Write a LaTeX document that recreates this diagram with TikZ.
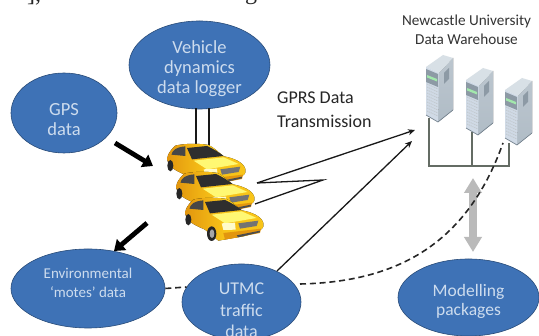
\documentclass[tikz,border=0pt]{standalone}
\usepackage{fontspec}
\setmainfont{Carlito}
\newfontfamily\bodyserif{Liberation Serif}
\usetikzlibrary{arrows.meta,calc,shapes.geometric}
\definecolor{bub}{RGB}{62,114,182}
\definecolor{bubtxt}{RGB}{205,220,238}
\definecolor{bubline}{RGB}{40,75,120}
\definecolor{cary}{RGB}{248,196,24}
\definecolor{cardk}{RGB}{226,150,14}
\definecolor{srv}{RGB}{176,188,198}
\definecolor{srvd}{RGB}{118,132,144}
\definecolor{srvl}{RGB}{216,224,230}
\definecolor{srvf}{RGB}{208,218,230}
\definecolor{linkg}{RGB}{100,108,100}
\tikzset{x=1pt,y=-1pt,
 bubble/.style={ellipse,draw=bubline,line width=.6pt,fill=bub,text=bubtxt,align=center,inner sep=0pt},
 conn/.style={line width=1.3pt,black!90},
 tipconn/.style={conn,-{Stealth[length=7pt,width=6pt]}},
 dashconn/.style={line width=1.6pt,black!85,dash pattern=on 6pt off 3.8pt},
 bigarrow/.style={line width=4.8pt,black,-{Triangle[length=10pt,width=14pt]}},
 labeltxt/.style={font=\fontsize{18}{22}\selectfont,text=black!85,anchor=west,inner sep=0pt},
 cuttxt/.style={font=\bodyserif\fontsize{24}{24}\selectfont,text=black!85,anchor=base west,inner sep=0pt},
}
\newcommand{\bubtext}[2]{\raisebox{#1}[0pt][0pt]{\begin{tabular}{@{}c@{}}#2\end{tabular}}}
\newcommand{\onecar}[1]{%
 \begin{scope}[shift={(#1)},x=.3333pt,y=-.3333pt]
  \fill[left color=cardk,right color=cary,middle color=cary] (0,45) .. controls (3,25) and (15,15) .. (25,5) .. controls (50,-2) and (100,-2) .. (125,3) .. controls (140,10) and (155,25) .. (170,37) .. controls (200,42) and (230,55) .. (235,75) .. controls (238,90) and (232,100) .. (175,115) -- (100,128) -- (60,95) .. controls (40,85) and (5,75) .. cycle;
  \fill[black!82] (60,12) -- (120,6) .. controls (140,15) and (160,28) .. (170,36) -- (75,46) -- cycle;
  \fill[black!72] (13,32) .. controls (18,18) and (25,10) .. (55,7) -- (55,36) -- cycle;
  \fill[yellow!55!white] (80,50) -- (170,40) -- (215,60) -- (120,76) -- cycle;
  \fill[white!80!yellow] (110,76) -- (150,74) -- (152,95) -- (115,96) -- cycle;
  \fill[black!55] (160,76) -- (220,68) -- (215,84) -- (165,92) -- cycle;
  \fill[cardk] (115,105) -- (228,92) -- (225,105) -- (120,125) -- cycle;
  \fill[black!70] (155,112) -- (225,98) -- (225,103) -- (160,118) -- cycle;
  \fill[black!85] (80,107) ellipse [x radius=14,y radius=22];
  \fill[black!85] (10,65) ellipse [x radius=9,y radius=17];
  \fill[black!35] (81,107) ellipse [x radius=7,y radius=13];
 \end{scope}}
\newcommand{\oneserver}[1]{%
 \begin{scope}[shift={(#1)}]
  \fill[top color=srv!85!white,bottom color=srv] (13,6) -- (27,-9) -- (27,43) -- (12,55) -- cycle;
  \fill[srvl] (13,6) -- (27,-9) -- (17,-12) -- (0,0) -- cycle;
  \fill[srvf] (0,0) -- (13,6) -- (12,55) -- (0,48) -- cycle;
  \fill[srvd!75!srvf] (0,2) -- (12,7) -- (12,20) -- (0,15) -- cycle;
  \fill[green!25!srvl] (1,8) -- (11,12) -- (11,14.5) -- (1,10.5) -- cycle;
  \foreach \k in {17,20,...,44}{\draw[white!55!srvd,line width=.8pt,dash pattern=on 1.2pt off .8pt] (1,\k) -- (12,\k+5);}
  \fill[srvd!60!srv] (18,6) -- (23,1) -- (23,12) -- (18,17) -- cycle;
  \draw[srvd,line width=.7pt] (0,48) -- (12,55) -- (27,43);
 \end{scope}}
\begin{document}
\begin{tikzpicture}
\useasboundingbox (0,0) rectangle (539,336);
\fill[white] (0,0) rectangle (539,336);
\begin{scope}
\clip (0,0) rectangle (539,336);
\node[cuttxt] (cutA) at (27,2) {],};
\node[cuttxt] (cutB) at (245,0) {g};
% wiring of the warehouse
\coordinate (s1b) at (429,118); \coordinate (s2b) at (472,132); \coordinate (s3b) at (509,143);
\coordinate (bus1) at (429,166); \coordinate (bus2) at (472,166); \coordinate (bus3) at (509,166);
\draw[linkg,line width=1.1pt] (s1b) -- (bus1) -- (bus3) -- (s3b);
\draw[linkg,line width=1.1pt] (s2b) -- (bus2);
\oneserver{426,67}
\oneserver{466,80}
\oneserver{505,90}
\node[font=\fontsize{15.2}{19}\selectfont,text=black!80,align=center,inner sep=0pt] (nu) at (466.5,29.5) {Newcastle University\\Data Warehouse};
% bubbles
\node[bubble,minimum width=141pt,minimum height=88pt,font=\fontsize{18.5}{20}\selectfont] (veh) at (199.5,65) {\bubtext{-9pt}{Vehicle\\dynamics\\data logger}};
\node[bubble,minimum width=106pt,minimum height=80pt,font=\fontsize{18.5}{20}\selectfont] (gps) at (64,113) {\bubtext{-13pt}{GPS\\data}};
\node[bubble,minimum width=154pt,minimum height=79pt,font=\fontsize{15}{19}\selectfont] (env) at (88,288.5) {\bubtext{1pt}{Environmental\\‘motes’ data}};
\node[bubble,minimum width=119pt,minimum height=76pt,font=\fontsize{18}{21.5}\selectfont] (utmc) at (241.5,302) {\bubtext{-14.5pt}{UTMC\\traffic\\data}};
\node[bubble,minimum width=141pt,minimum height=77pt,font=\fontsize{17.5}{18.5}\selectfont] (model) at (468.5,297.5) {\bubtext{-9pt}{Modelling\\packages}};
% cars
\coordinate (carA) at (167,144);
\coordinate (carB) at (176,172);
\coordinate (carC) at (185,198);
\draw[conn] (196,108.5) -- (196,146);
\draw[conn] (209,108.5) -- (209,146);
\onecar{carA}
\onecar{carB}
\onecar{carC}
\node[labeltxt] (gprs) at (277,98) {GPRS Data};
\node[labeltxt] (trans) at (277,121) {Transmission};
% GPRS zigzag
\coordinate (rxa) at (415,130);
\coordinate (rxb) at (412,141);
\coordinate (zig) at (323,180);
\coordinate (zag) at (257,183);
\coordinate (carout) at (255,204);
\draw[conn] (carout) -- (zig) -- (zag);
\draw[tipconn] (zag) -- (rxa);
\draw[tipconn] (utmc) ++(35.5,-31) -- (rxb);
\draw[bigarrow] (115,143) -- (153,166);
\draw[bigarrow] (147,223) -- (114,251);
\draw[line width=7.5pt,black!27,{Triangle[length=15pt,width=17pt]}-{Triangle[length=15pt,width=17pt]}] (473,178) -- (473,252);
\draw[dashconn] (env.east) -- ($(utmc.center)+(-55,-15)$);
\draw[dashconn] (300,284) .. controls (390,282) and (465,250) .. (503,143);
\end{scope}
\end{tikzpicture}
\end{document}
